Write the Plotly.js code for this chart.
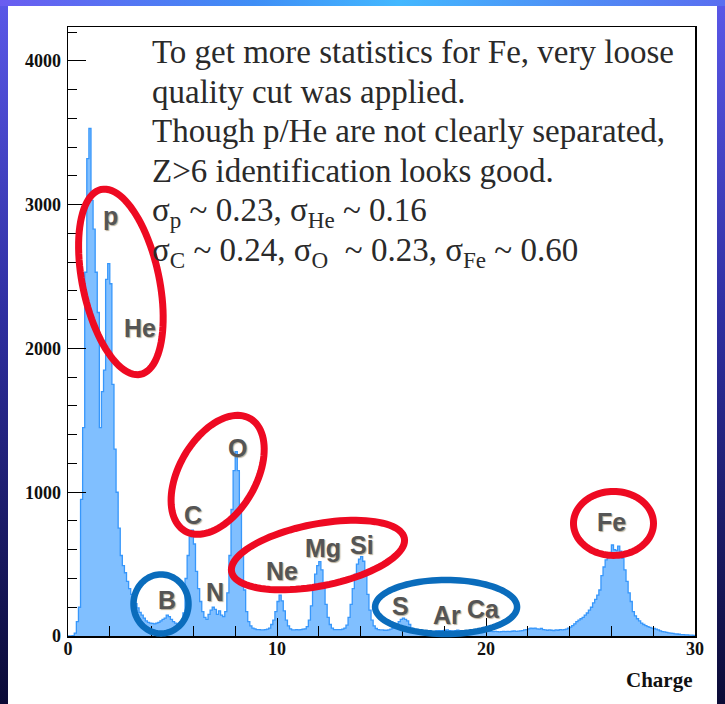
<!DOCTYPE html>
<html>
<head>
<meta charset="utf-8">
<script src="https://cdn.plot.ly/plotly-3.0.1.min.js"></script>
<style>
  html, body { margin: 0; padding: 0; width: 725px; height: 704px; overflow: hidden; }
  body { position: relative; background: linear-gradient(to bottom, #5a58e8 0%, #2e2ea0 45%, #0b0b36 100%); }
  #topband { position: absolute; left: 0; top: 0; width: 725px; height: 6px;
    background: linear-gradient(to right, #6a5cf0 0%, #3f8ef6 35%, #43b8ff 55%, #4f8cf5 80%, #5a6ef0 100%); }
  #panel { position: absolute; left: 8px; top: 6px; width: 709px; height: 698px; background: #fff; }
  #chart { position: absolute; left: 0; top: 0; width: 725px; height: 704px; }
</style>
</head>
<body>
<div id="topband"></div>
<div id="panel"></div>
<div id="chart"></div>
<script>
// Charge histogram, 0.1-wide bins from 0 to 30
const binWidth = 0.1;
const chargeMin = 0;

const countsPHe = [   // 0.0 - 3.0
  0, 0, 2, 20, 100, 200, 950, 1450, 2530, 3320,
  3530, 3030, 2830, 2530, 2250, 1450, 1700, 1850, 2480, 2590,
  2450, 1750, 1300, 1000, 750, 560, 490, 440, 380, 330
];
const countsB = [     // 3.0 - 6.0
  290, 260, 225, 195, 165, 145, 125, 105, 95, 90,
  88, 85, 90, 95, 105, 115, 125, 145, 135, 115,
  100, 90, 80, 75, 90, 160, 400, 560, 690, 737
];
const countsNO = [    // 6.0 - 9.0
  640, 450, 330, 240, 170, 130, 115, 150, 180, 200,
  185, 150, 175, 145, 135, 170, 300, 560, 880, 1150,
  1282, 1150, 880, 560, 320, 170, 100, 70, 55, 50
];
const countsNe = [    // 9.0 - 12.0
  45, 45, 42, 42, 45, 48, 55, 80, 110, 170,
  240, 285, 245, 175, 110, 70, 50, 42, 42, 45,
  42, 45, 48, 50, 65, 110, 210, 340, 430, 490
];
const countsMgSi = [  // 12.0 - 15.0
  517, 460, 350, 220, 130, 80, 55, 45, 45, 45,
  45, 48, 55, 75, 130, 220, 330, 430, 500, 535,
  552, 520, 420, 290, 180, 110, 70, 52, 45, 42
];
const countsS = [     // 15.0 - 18.0
  42, 40, 40, 42, 48, 55, 65, 85, 100, 115,
  125, 115, 105, 80, 55, 45, 40, 35, 32, 32,
  30, 32, 35, 33, 30, 32, 35, 38, 36, 38
];
const countsArCa = [  // 18.0 - 21.0
  40, 42, 38, 36, 35, 38, 40, 37, 35, 36,
  38, 35, 37, 40, 38, 36, 35, 38, 40, 37,
  35, 33, 32, 30, 32, 30, 28, 30, 32, 30
];
const countsMid = [   // 21.0 - 24.0
  32, 30, 33, 35, 32, 34, 36, 38, 42, 45,
  50, 55, 52, 55, 50, 48, 52, 45, 42, 40,
  42, 40, 38, 42, 40, 44, 42, 45, 48, 55
];
const countsFe = [    // 24.0 - 27.0
  62, 72, 85, 100, 110, 120, 130, 145, 160, 180,
  200, 230, 255, 285, 320, 420, 480, 530, 560, 580,
  633, 600, 595, 625, 590, 540, 460, 380, 300, 240
];
const countsTail = [  // 27.0 - 30.0
  170, 140, 120, 105, 90, 80, 72, 65, 60, 55,
  52, 48, 42, 36, 30, 28, 25, 22, 20, 18,
  15, 14, 12, 10, 10, 8, 8, 6, 6, 5
];

const counts = [].concat(countsPHe, countsB, countsNO, countsNe, countsMgSi,
                         countsS, countsArCa, countsMid, countsFe, countsTail);

// bin edges for a step outline; the last bin is repeated to close the step
const edges = [];
for (let i = 0; i <= counts.length; i++) edges.push(+(chargeMin + i * binWidth).toFixed(3));
const stepY = counts.concat([counts[counts.length - 1]]);

// element labels (placed in charge / count coordinates)
const labelText   = ['p', 'He', 'B', 'C', 'N', 'O', 'Ne', 'Mg', 'Si', 'S', 'Ar', 'Ca', 'Fe'];
const labelCharge = [2.01, 3.44, 4.72, 6.0, 7.03, 8.10, 10.22, 12.22, 14.05, 15.92, 18.13, 19.86, 26.01];
const labelCount  = [2921, 2143, 250, 842, 308, 1310, 454, 612, 633, 209, 146, 188, 795];

// text block
const noteLines = [
  'To get more statistics for Fe, very loose',
  'quality cut was applied.',
  'Though p/He are not clearly separated,',
  'Z>6 identification looks good.',
  'σ<sub>p</sub> ~ 0.23, σ<sub>He</sub> ~ 0.16',
  'σ<sub>C</sub> ~ 0.24, σ<sub>O</sub>  ~ 0.23, σ<sub>Fe</sub> ~ 0.60'
];

const W = 725, H = 704;
const M = { l: 68, r: 30, t: 27, b: 68 };
const xRange = [0, 30], yRange = [0, 4236];
const plotW = W - M.l - M.r, plotH = H - M.t - M.b;

// pixel helpers
const pxX = z => M.l + (z - xRange[0]) / (xRange[1] - xRange[0]) * plotW;
const pxY = v => M.t + plotH - (v - yRange[0]) / (yRange[1] - yRange[0]) * plotH;
const paperX = px => (px - M.l) / plotW;
const paperY = py => (M.t + plotH - py) / plotH;

// highlight rings: centre in data units, radii in pixels, tilt in degrees
const rings = [
  { z: 2.53,  v: 2463, rx: 94.5, ry: 38.3, tilt: 102, color: '#ee0a22', w: 7 },
  { z: 7.16,  v: 1121, rx: 65,   ry: 38.5, tilt: 60,  color: '#ee0a22', w: 7 },
  { z: 11.96, v: 563,  rx: 88,   ry: 31,   tilt: 11,  color: '#ee0a22', w: 7 },
  { z: 26.1,  v: 783,  rx: 40,   ry: 32,   tilt: 0,   color: '#ee0a22', w: 7 },
  { z: 4.45,  v: 223,  rx: 27.5, ry: 29.5, tilt: 0,   color: '#0a6cbc', w: 6.5 },
  { z: 18.09, v: 202,  rx: 71,   ry: 27,   tilt: 0,   color: '#0a6cbc', w: 6.5 }
];

function ringPath(r) {
  const cx = pxX(r.z), cy = pxY(r.v);
  const th = r.tilt * Math.PI / 180;
  const pts = [];
  for (let k = 0; k < 96; k++) {
    const t = 2 * Math.PI * k / 96;
    const dx = r.rx * Math.cos(t) * Math.cos(th) - r.ry * Math.sin(t) * Math.sin(th);
    const dyUp = r.rx * Math.cos(t) * Math.sin(th) + r.ry * Math.sin(t) * Math.cos(th);
    pts.push(paperX(cx + dx).toFixed(5) + ',' + paperY(cy - dyUp).toFixed(5));
  }
  return 'M' + pts.join('L') + 'Z';
}

const shapes = rings.map(r => ({
  type: 'path', xref: 'paper', yref: 'paper', path: ringPath(r),
  line: { color: r.color, width: r.w }, fillcolor: 'rgba(0,0,0,0)', layer: 'above'
}));

const labelFont = { family: 'Liberation Sans, Arial, sans-serif', size: 25, color: '#555',
                    weight: 'bold', shadow: '1px 1px 1px rgba(130,110,70,0.55)' };
const annotations = labelText.map((t, i) => ({
  text: t, x: labelCharge[i], y: labelCount[i], xref: 'x', yref: 'y',
  showarrow: false, xanchor: 'center', yanchor: 'middle', font: labelFont
}));

const noteCenters = [52, 91.5, 131, 170.5, 213, 252];
noteLines.forEach((t, i) => annotations.push({
  text: t, xref: 'paper', yref: 'paper', x: paperX(150), y: paperY(noteCenters[i]),
  xanchor: 'left', yanchor: 'middle', showarrow: false, align: 'left',
  font: { family: 'Liberation Serif, Times New Roman, serif', size: 33, color: '#2a2a2a' }
}));

annotations.push({
  text: 'Charge', xref: 'paper', yref: 'paper', x: 1, y: paperY(680),
  xanchor: 'right', yanchor: 'middle', showarrow: false,
  font: { family: 'Liberation Serif, Times New Roman, serif', size: 21, color: '#111', weight: 'bold' }
});

const tickFont = { family: 'Liberation Serif, Times New Roman, serif', size: 18, color: '#111', weight: 'bold' };

const trace = {
  x: edges, y: stepY, type: 'scatter', mode: 'lines',
  line: { shape: 'hv', color: '#3797fb', width: 1.3 },
  fill: 'tozeroy', fillcolor: '#80bfff', hoverinfo: 'skip'
};

const layout = {
  width: W, height: H,
  margin: { l: M.l, r: M.r, t: M.t, b: M.b, pad: 0 },
  paper_bgcolor: 'rgba(0,0,0,0)', plot_bgcolor: '#fff',
  showlegend: false,
  xaxis: {
    range: xRange, showgrid: false, zeroline: false,
    showline: true, linecolor: '#000', linewidth: 1.5, mirror: true,
    ticks: 'inside', ticklen: 18, tickwidth: 1, tickcolor: '#000',
    tick0: 0, dtick: 10, tickfont: tickFont, ticklabelstandoff: -4,
    minor: { ticks: 'inside', ticklen: 10, dtick: 2, tickwidth: 1, tickcolor: '#000', showgrid: false }
  },
  yaxis: {
    range: yRange, showgrid: false, zeroline: false,
    showline: true, linecolor: '#000', linewidth: 1.5, mirror: true,
    ticks: 'inside', ticklen: 18, tickwidth: 1, tickcolor: '#000',
    tick0: 0, dtick: 1000, tickfont: tickFont, ticklabelstandoff: 2,
    minor: { ticks: 'inside', ticklen: 9, dtick: 200, tickwidth: 1, tickcolor: '#000', showgrid: false }
  },
  shapes: shapes,
  annotations: annotations
};

Plotly.newPlot('chart', [trace], layout, { displayModeBar: false, staticPlot: true });
</script>
</body>
</html>
